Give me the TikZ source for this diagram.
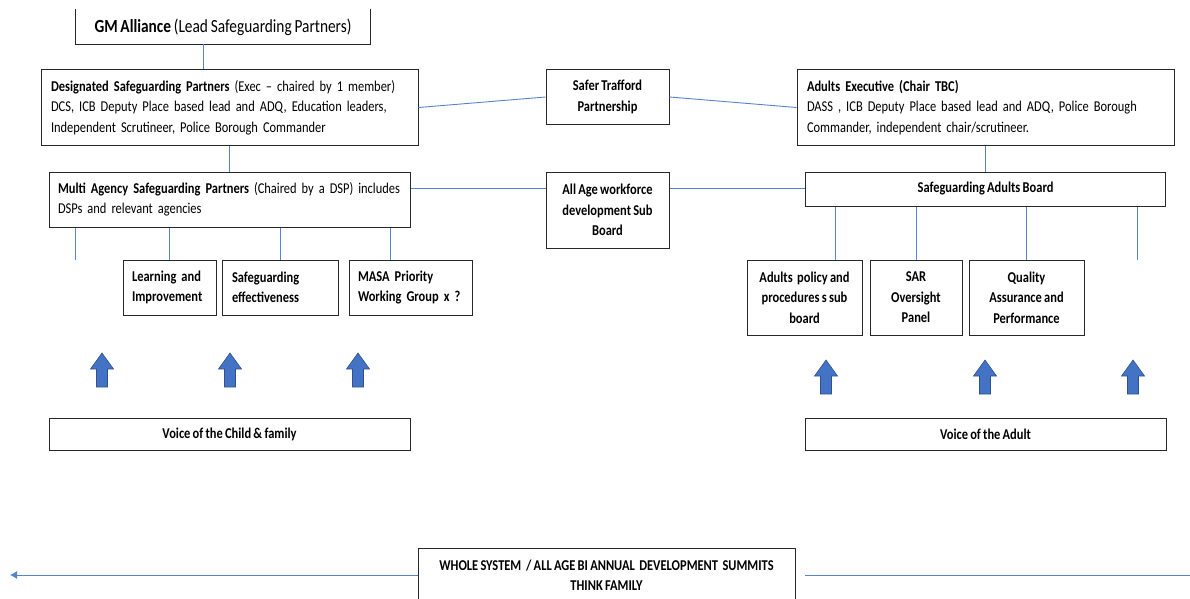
\documentclass[tikz,border=0pt]{standalone}
\usepackage{fontspec}
\setmainfont{Carlito}[FakeStretch=0.83, WordSpace=0.8]
\usetikzlibrary{arrows.meta}
\definecolor{conn}{RGB}{84,130,206}
\definecolor{blockblue}{RGB}{68,114,196}
\definecolor{blockedge}{RGB}{47,82,143}
\definecolor{boxline}{RGB}{40,40,40}
\tikzset{
  box/.style={draw=boxline, line width=1pt, fill=white, inner sep=0pt, align=center,
    font=\fontsize{15}{20.5}\selectfont},
  lbox/.style={box, align=left},
  conline/.style={draw=conn, line width=0.9pt},
  uparrow/.pic={\path[fill=blockblue, draw=blockedge, line width=0.6pt]
    (-5.5,0) -- (-5.5,-18) -- (-11.5,-18) -- (0,-34) -- (11.5,-18) -- (5.5,-18) -- (5.5,0) -- cycle;}
}
\begin{document}
\begin{tikzpicture}[x=1pt,y=-1pt]
\useasboundingbox (0,0) rectangle (1190,599);
% top
\node[box, draw=none, fill=none, minimum width=294, minimum height=34, font=\fontsize{18.5}{20}\selectfont] (gm) at (223,27) {\textbf{GM Alliance} (Lead Safeguarding Partners)};
\draw[boxline, line width=1pt] (gm.north west) -- (gm.south west) -- (gm.south east) -- (gm.north east);

\node[lbox, minimum width=377, minimum height=75, text width=357] (dsp) at (229.5,107.5)
 {\textbf{Designated Safeguarding Partners} (Exec -- chaired by 1 member)\\
  DCS, ICB Deputy Place based lead and ADQ, Education leaders,\\
  Independent Scrutineer, Police Borough Commander};
\node[box, minimum width=123, minimum height=54] (st) at (607.5,97) {\textbf{Safer Trafford}\\\textbf{Partnership}};
\node[lbox, minimum width=377, minimum height=75, text width=357] (ae) at (985.5,107.5)
 {\textbf{Adults Executive (Chair TBC)}\\
  DASS , ICB Deputy Place based lead and ADQ, Police Borough\\
  Commander, independent chair/scrutineer.};

\node[lbox, minimum width=361, minimum height=55, text width=343] (masp) at (229.5,199.5)
 {\textbf{Multi Agency Safeguarding Partners} (Chaired by a DSP) includes\\
  DSPs and relevant agencies};
\node[box, minimum width=123, minimum height=76] (aa) at (607.5,210) {\textbf{All Age workforce}\\\textbf{development Sub}\\\textbf{Board}};
\node[box, minimum width=360, minimum height=34] (sab) at (985.5,189) {\textbf{Safeguarding Adults Board}};

\node[lbox, minimum width=93, minimum height=55, text width=75] (li) at (169.5,287.5) {\textbf{Learning and}\\\textbf{Improvement}};
\node[lbox, minimum width=116, minimum height=55, text width=96] (se) at (280,287.5) {\textbf{Safeguarding}\\\textbf{effectiveness}};
\node[lbox, minimum width=123, minimum height=55, text width=105] (masa) at (410.5,287.5) {\textbf{MASA Priority}\\\textbf{Working Group x ?}};

\node[box, minimum width=115, minimum height=75] (app) at (804.5,297.5) {\textbf{Adults \ policy and}\\\textbf{procedures s sub}\\\textbf{board}};
\node[box, minimum width=92, minimum height=75] (sar) at (916,297.5) {\textbf{SAR}\\\textbf{Oversight}\\\textbf{Panel}};
\node[box, minimum width=115, minimum height=75] (qap) at (1026.5,297.5) {\textbf{Quality}\\\textbf{Assurance and}\\\textbf{Performance}};

\node[box, minimum width=361, minimum height=32] (vc) at (229.5,434) {\textbf{Voice of the Child \& family}};
\node[box, minimum width=361, minimum height=32] (va) at (985.5,434) {\textbf{Voice of the Adult}};

\node[box, minimum width=377, minimum height=54, font=\fontsize{15}{20}\selectfont] (ws) at (606.5,575)
 {\textbf{WHOLE SYSTEM \,/ ALL AGE BI ANNUAL \ DEVELOPMENT \ SUMMITS}\\\textbf{THINK FAMILY}};

% free ends
\coordinate (m1) at (75,260);
\coordinate (s4) at (1137,260);
\coordinate (wl) at (10,575);
\coordinate (wr0) at (805,575);
\coordinate (wr1) at (1190,575);

% connectors
\path[conline] ([xshift=-20pt]gm.south) -- ([xshift=-20pt]gm.south |- dsp.north);
\path[conline] (dsp.south) -- (masp.north);
\path[conline] (dsp.east) -- (st.west);
\path[conline] (st.east) -- (ae.west);
\path[conline] (ae.south) -- (sab.north);
\path[conline] ([yshift=11.5pt]masp.east) -- ([yshift=11.5pt]masp.east -| aa.west);
\path[conline] ([yshift=11.5pt]masp.east -| aa.east) -- ([yshift=11.5pt]masp.east -| sab.west);
\path[conline] (masp.south -| m1) -- (m1);
\path[conline] (masp.south -| li.north) -- (li.north);
\path[conline] (masp.south -| se.north) -- (se.north);
\path[conline] ([xshift=-20.5pt]masa.north |- masp.south) -- ([xshift=-20.5pt]masa.north);
\path[conline] ([xshift=30.5pt]app.north |- sab.south) -- ([xshift=30.5pt]app.north);
\path[conline] (sab.south -| sar.north) -- (sar.north);
\path[conline] (sab.south -| qap.north) -- (qap.north);
\path[conline] (sab.south -| s4) -- (s4);
\path[conline, -{Latex[length=7pt,width=8pt]}] (ws.west) -- (wl);
\path[conline] (wr0) -- (wr1);

% block arrows
\pic at (102,387) {uparrow};
\pic at (230,387) {uparrow};
\pic at (358,387) {uparrow};
\pic at (826,394) {uparrow};
\pic at (985,394) {uparrow};
\pic at (1133,394) {uparrow};
\end{tikzpicture}
\end{document}
